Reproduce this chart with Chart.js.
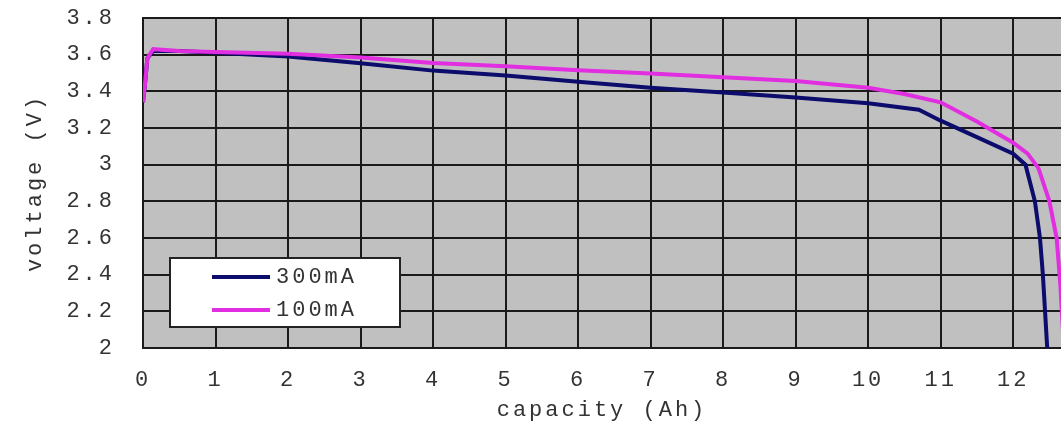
<!DOCTYPE html>
<html>
<head>
<meta charset="utf-8">
<script src="https://cdn.jsdelivr.net/npm/chart.js@4/dist/chart.umd.min.js"></script>
<style>
  html, body { margin: 0; padding: 0; background: #fff; overflow: hidden; }
  #wrap { position: relative; width: 1061px; height: 436px; }
</style>
</head>
<body>
<div id="wrap"><canvas id="chart"></canvas></div>
<script>
/* ── Data ──────────────────────────────────────────────────────────── */
const xTicks = [0, 1, 2, 3, 4, 5, 6, 7, 8, 9, 10, 11, 12];
const yTicks = [2, 2.2, 2.4, 2.6, 2.8, 3, 3.2, 3.4, 3.6, 3.8];

const seriesLabels = ["300mA", "100mA"];
const seriesColors = ["#0c0c6c", "#e02ee0"];

/* 300mA discharge: capacity (Ah) / voltage (V) */
const cap300  = [0, 0.03, 0.06, 0.14, 0.5, 1, 2, 3, 4, 5, 6, 7, 8, 9, 10, 10.7, 11, 11.5, 12, 12.17, 12.3, 12.37, 12.41, 12.44, 12.47];
const volt300 = [3.34, 3.45, 3.58, 3.62, 3.62, 3.61, 3.59, 3.553, 3.513, 3.487, 3.452, 3.42, 3.393, 3.366, 3.335, 3.30, 3.24, 3.15, 3.06, 3.0, 2.8, 2.6, 2.4, 2.2, 2.0];

/* 100mA discharge */
const cap100  = [0, 0.03, 0.06, 0.14, 0.5, 1, 2, 3, 4, 5, 6, 7, 8, 9, 10, 10.5, 11, 11.5, 12, 12.2, 12.35, 12.5, 12.6, 12.65, 12.7];
const volt100 = [3.34, 3.45, 3.58, 3.63, 3.62, 3.615, 3.605, 3.585, 3.555, 3.537, 3.515, 3.497, 3.477, 3.456, 3.42, 3.385, 3.34, 3.235, 3.12, 3.06, 2.98, 2.8, 2.6, 2.35, 2.0];

/* ── Helpers ───────────────────────────────────────────────────────── */
const toPoints = (xs, ys) => xs.map((x, i) => ({ x: x, y: ys[i] }));

const FONT = "'Liberation Mono', 'DejaVu Sans Mono', monospace";
const tickFont = { family: FONT, size: 22 };

/* wide monospace look of the original labels */
const spacingPlugin = {
  id: "spacing",
  beforeLayout(chart) { chart.ctx.letterSpacing = "3px"; },
  beforeDraw(chart)   { chart.ctx.letterSpacing = "3px"; },
};

/* gray plot background */
const plotBg = {
  id: "plotBg",
  beforeDraw(chart) {
    const { ctx, chartArea: a } = chart;
    ctx.save();
    ctx.fillStyle = "#c0c0c0";
    ctx.fillRect(a.left, a.top, a.right - a.left, a.bottom - a.top);
    ctx.restore();
  },
};

/* boxed legend sitting inside the plot, lower left */
const boxLegend = {
  id: "boxLegend",
  afterDraw(chart) {
    const { ctx, chartArea: a } = chart;
    const bx = a.left + 27, by = a.bottom - 90, bw = 230, bh = 69;
    ctx.save();
    ctx.letterSpacing = "3px";
    ctx.fillStyle = "#fff";
    ctx.fillRect(bx, by, bw, bh);
    ctx.strokeStyle = "#222";
    ctx.lineWidth = 2;
    ctx.strokeRect(bx, by, bw, bh);
    ctx.font = "22px " + FONT;
    ctx.textBaseline = "middle";
    seriesLabels.forEach((lab, i) => {
      const y = by + 19 + i * 33;
      ctx.strokeStyle = seriesColors[i];
      ctx.lineWidth = 4;
      ctx.beginPath();
      ctx.moveTo(bx + 42, y);
      ctx.lineTo(bx + 100, y);
      ctx.stroke();
      ctx.fillStyle = "#333";
      ctx.fillText(lab, bx + 106, y);
    });
    ctx.restore();
  },
};

/* ── Chart ─────────────────────────────────────────────────────────── */
new Chart(document.getElementById("chart"), {
  type: "line",
  data: {
    datasets: [
      {
        label: seriesLabels[0],
        data: toPoints(cap300, volt300),
        borderColor: seriesColors[0],
        borderWidth: 4,
        pointRadius: 0,
        tension: 0,
        order: 1,
      },
      {
        label: seriesLabels[1],
        data: toPoints(cap100, volt100),
        borderColor: seriesColors[1],
        borderWidth: 4,
        pointRadius: 0,
        tension: 0,
        order: 0,
      },
    ],
  },
  options: {
    responsive: true,
    maintainAspectRatio: false,
    animation: false,
    layout: { padding: { top: 18, right: 0, bottom: 0, left: 0 } },
    plugins: {
      legend: { display: false },
      tooltip: { enabled: false },
    },
    scales: {
      x: {
        type: "linear",
        min: 0,
        max: 12.66,
        afterBuildTicks: (axis) => { axis.ticks = xTicks.map((v) => ({ value: v })); },
        afterFit: (axis) => { axis.height = 88; axis.paddingLeft = 0; axis.paddingRight = 0; },
        grid: { color: "#1a1a1a", lineWidth: 2, drawTicks: false },
        border: { color: "#1a1a1a", width: 2 },
        ticks: { color: "#333", font: tickFont, padding: 19, maxRotation: 0, autoSkip: false },
        title: {
          display: true,
          text: "capacity (Ah)",
          color: "#333",
          font: tickFont,
          padding: { top: 0, bottom: 13 },
        },
      },
      y: {
        min: 2,
        max: 3.8,
        afterBuildTicks: (axis) => { axis.ticks = yTicks.map((v) => ({ value: v })); },
        afterFit: (axis) => { axis.width = 143; axis.paddingTop = 0; axis.paddingBottom = 0; },
        grid: { color: "#1a1a1a", lineWidth: 2, drawTicks: false },
        border: { color: "#1a1a1a", width: 2 },
        ticks: {
          color: "#333",
          font: tickFont,
          padding: 28,
          autoSkip: false,
          callback: (v) => String(Number(v.toFixed(1))),
        },
        title: {
          display: true,
          text: "voltage (V)",
          color: "#333",
          font: tickFont,
          padding: { top: 22, bottom: 0 },
        },
      },
    },
  },
  plugins: [spacingPlugin, plotBg, boxLegend],
});
</script>
</body>
</html>
